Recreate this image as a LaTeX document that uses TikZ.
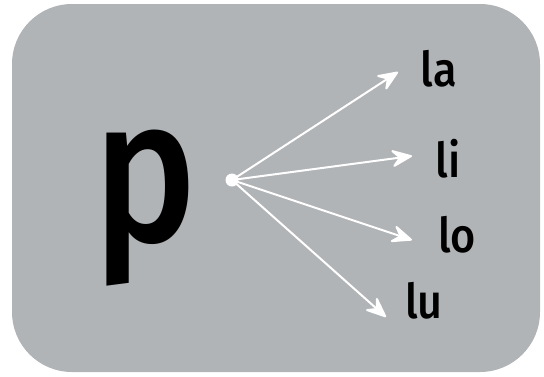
\documentclass[tikz,border=0pt]{standalone}
\usepackage{fontspec}
\setmainfont{Fira Sans}[BoldFont={Fira Sans Medium}]
\usetikzlibrary{arrows.meta}
\definecolor{cardgray}{HTML}{B1B4B7}

\begin{document}
\begin{tikzpicture}[
    x=1pt, y=-1pt,
    card/.style={fill=cardgray, draw=none, rounded corners=60pt},
    syll/.style={font=\fontsize{48}{48}\selectfont\bfseries, inner sep=0pt, anchor=base, xscale=0.9},
    branch/.style={-{Stealth[length=24pt, width=20pt, inset=9pt, round]}, white, line width=2pt},
]
\useasboundingbox (0,0) rectangle (544,376);

% card
\path[card] (12,4) rectangle (540,372);

% consonant
\node[font=\fontsize{205}{205}\selectfont\bfseries, inner sep=0pt, anchor=base, xscale=0.85] (cons) at (145,241) {p};

% dot
\node[circle, fill=white, inner sep=0pt, minimum size=13pt] (dot) at (232,180) {};

% syllables
\node[syll] (la) at (439,86) {la};
\node[syll] (li) at (448,177) {li};
\node[syll] (lo) at (457,252) {lo};
\node[syll] (lu) at (424,318) {lu};

% tips
\coordinate (tipa) at (398,72);
\coordinate (tipi) at (412,156);
\coordinate (tipo) at (412,240);
\coordinate (tipu) at (386,317);

% arrows
\draw[branch] (dot.center) -- (tipa);
\draw[branch] (dot.center) -- (tipi);
\draw[branch] (dot.center) -- (tipo);
\draw[branch] (dot.center) -- (tipu);

\end{tikzpicture}
\end{document}
